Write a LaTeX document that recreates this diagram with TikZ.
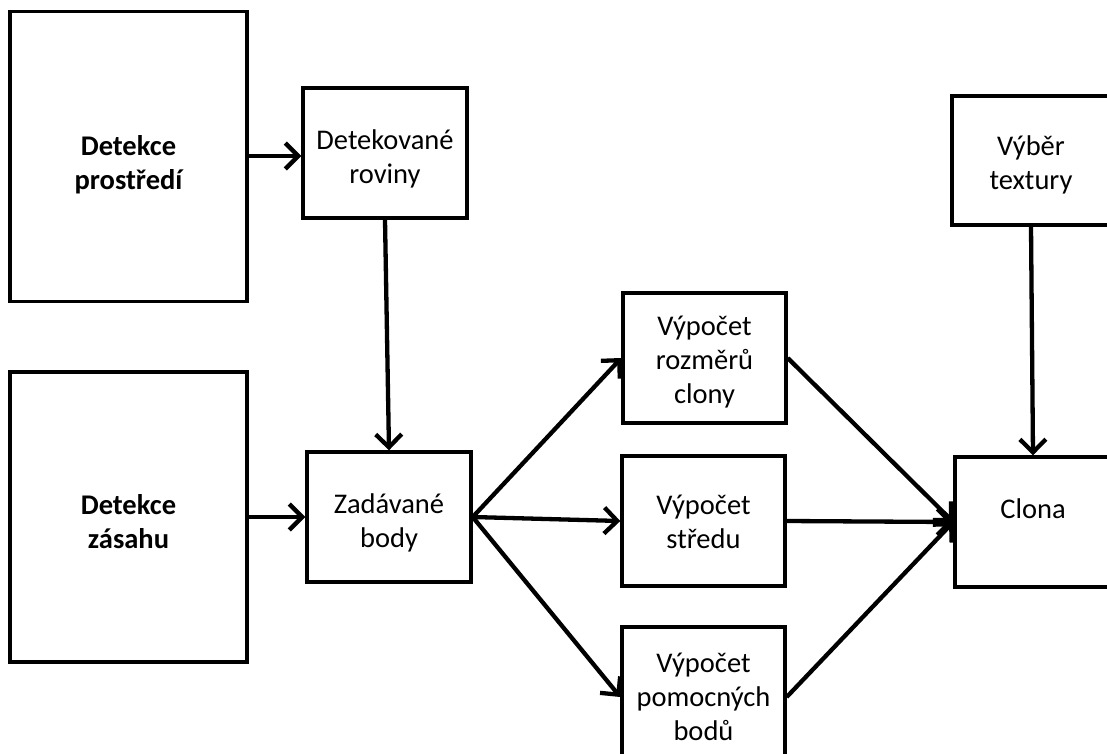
\documentclass[tikz,border=0pt]{standalone}
\usepackage{fontspec}
\setmainfont{Carlito}
\usetikzlibrary{arrows.meta}
\begin{document}
\begin{tikzpicture}[x=1pt,y=-1pt,
  box/.style={draw=black, line width=3.4pt, rectangle, inner sep=0pt},
  lab/.style={align=center, inner sep=0pt, font=\fontsize{28.5}{34}\selectfont},
  blab/.style={lab, font=\fontsize{28.5}{34}\selectfont\bfseries},
  bigbox/.style={box, minimum width=237pt, minimum height=290pt},
  smallbox/.style={box, minimum width=163pt, minimum height=130pt},
  conn/.style={line width=4.3pt, -{Straight Barb[length=13pt,width=26pt]}}
]
\clip (0,0) rectangle (1107,753);
\fill[white] (0,0) rectangle (1107,753);
\node[bigbox, label={[blab, yshift=-8pt]center:{Detekce\\prostředí}}] (A) at (128.5,156.5) {};
\node[smallbox, minimum width=164pt, label={[lab, yshift=-6pt]center:{Detekované\\roviny}}] (B) at (385,153) {};
\node[bigbox, label={[blab, yshift=-5pt]center:{Detekce\\zásahu}}] (C) at (128.5,517) {};
\node[smallbox, minimum width=164pt, label={[lab, yshift=-6pt]center:{Zadávané\\body}}] (D) at (389,517) {};
\node[smallbox, label={[lab, yshift=-4pt]center:{Výpočet\\rozměrů\\clony}}] (E) at (704.5,358) {};
\node[smallbox, label={[lab, yshift=-1pt]center:{Výpočet\\středu}}] (F) at (703.5,521) {};
\node[smallbox, minimum height=140pt, label={[lab]center:{Výpočet\\pomocných\\bodů}}] (G) at (703.5,697) {};
\node[smallbox, minimum width=158pt, minimum height=129pt, label={[lab, yshift=-4pt]center:{Výběr\\textury}}] (H) at (1031,160.5) {};
\node[smallbox, minimum width=156pt, label={[lab, yshift=13pt]center:{Clona}}] (K) at (1033,522) {};
\draw[conn] (A.east |- 0,156) -- (B.west |- 0,156);
\draw[conn] (B.south) -- (D.north);
\draw[conn] (C.east) -- (D.west);
\draw[conn] (D.east) -- (E.west);
\draw[conn] (D.east) -- (F.west);
\draw[conn] (D.east) -- (G.west);
\draw[conn] (E.east) -- (K.west);
\draw[conn] (F.east) -- (K.west);
\draw[conn] (G.east) -- (K.west);
\draw[conn] (H.south) -- (K.north);
\end{tikzpicture}
\end{document}
